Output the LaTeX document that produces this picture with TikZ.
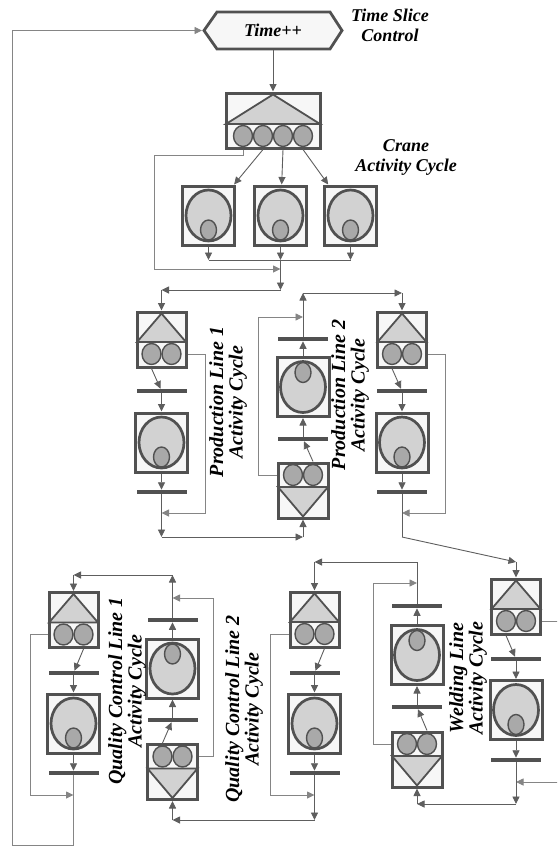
\documentclass[tikz,border=0pt]{standalone}
\usepackage{fontspec}
\setmainfont{Liberation Serif}
\usepackage{tikz}
\usetikzlibrary{arrows.meta, shapes.geometric}

\definecolor{edge}{HTML}{515151}
\definecolor{boxbg}{HTML}{F7F7F7}
\definecolor{lite}{HTML}{D2D2D2}
\definecolor{mid}{HTML}{A9A9A9}
\definecolor{lnk}{HTML}{5E5E5E}
\definecolor{lnkb}{HTML}{858585}

% queue: triangle above two tokens
\newcommand{\qtop}[3]{%
  \begin{scope}[shift={(#2,#3)}]
    \node[box, minimum width=49pt, minimum height=55pt] (#1) at (0,0) {};
    \draw[tri] (-24.5,2.5) -- (0,-26) -- (24.5,2.5) -- cycle;
    \node[token] (#1-1) at (-10,14.5) {};
    \node[token] (#1-2) at (10,14.5) {};
  \end{scope}}
% queue: two tokens above a triangle
\newcommand{\qbot}[3]{%
  \begin{scope}[shift={(#2,#3)}]
    \node[box, minimum width=50pt, minimum height=55pt] (#1) at (0,0) {};
    \draw[tri] (-25,-3.5) -- (0,26) -- (25,-3.5) -- cycle;
    \node[token] (#1-1) at (-10,-15.5) {};
    \node[token] (#1-2) at (10,-15.5) {};
  \end{scope}}
% activity, token at the bottom / at the top
\newcommand{\actbot}[3]{%
  \begin{scope}[shift={(#2,#3)}]
    \node[box, minimum width=52pt, minimum height=59pt] (#1) at (0,0) {};
    \draw[big] (0,0) ellipse [x radius=22.5, y radius=25.5];
    \draw[small] (0,14.5) ellipse [x radius=8, y radius=10];
  \end{scope}}
\newcommand{\acttop}[3]{%
  \begin{scope}[shift={(#2,#3)}]
    \node[box, minimum width=52pt, minimum height=59pt] (#1) at (0,0) {};
    \draw[big] (0,0) ellipse [x radius=22.5, y radius=25.5];
    \draw[small] (0,-14.5) ellipse [x radius=8, y radius=10];
  \end{scope}}

\begin{document}
\begin{tikzpicture}[
  x=1pt, y=-1pt,
  box/.style={rectangle, draw=edge, line width=3pt, fill=boxbg, inner sep=0pt, outer sep=1.5pt},
  bar/.style={rectangle, fill=edge, minimum width=50pt, minimum height=4.5pt, inner sep=0pt, outer sep=0pt},
  token/.style={ellipse, draw=edge, line width=1.4pt, fill=mid, minimum width=19pt, minimum height=21pt, inner sep=0pt},
  tri/.style={draw=edge, line width=1.8pt, fill=lite},
  big/.style={draw=edge, line width=2.7pt, fill=lite},
  small/.style={draw=edge, line width=1.4pt, fill=mid},
  link/.style={draw=lnk, line width=0.9pt, -{Triangle[length=7.5pt,width=7pt]}},
  back/.style={link, draw=lnkb},
  plain/.style={draw=lnk, line width=0.9pt},
  lbl/.style={font=\fontsize{18}{20}\selectfont\bfseries\itshape, align=center, inner sep=0pt},
  vlbl/.style={font=\fontsize{20}{19.5}\selectfont\bfseries\itshape, align=center, inner sep=0pt, rotate=90}
]
\useasboundingbox (0,0) rectangle (557,846);
\clip (0,0) rectangle (557,846);

% time slice control
\filldraw[draw=edge, fill=boxbg, line width=2.8pt] (204,30.5) -- (217,12) -- (330,12) -- (342,30.5) -- (330,49) -- (217,49) -- cycle;
\node[lbl] (time) at (273,30) {Time++};
\coordinate (tw) at (202,30.5);
\coordinate (tb) at (273,50);
\node[lbl] (tslbl) at (390,25) {Time Slice\\Control};

% crane
\node[box, minimum width=94pt, minimum height=55pt] (cr) at (273,120.5) {};
\draw[tri] (226,124) -- (273,94.5) -- (320,124) -- cycle;
\node[token] (cr-1) at (243,136) {};
\node[token] (cr-2) at (263,136) {};
\node[token] (cr-3) at (283,136) {};
\node[token] (cr-4) at (303,136) {};
\actbot{ca1}{208.5}{215.5}
\actbot{ca2}{280.5}{215.5}
\actbot{ca3}{350.5}{215.5}
\node[lbl] (crlbl) at (406,157) {Crane\\Activity Cycle};

\draw[link] (tb) -- (cr);
\draw[link] (cr-2 |- cr.south) -- (ca1);
\draw[link] (cr-3 |- cr.south) -- (ca2);
\draw[link] (cr-4 |- cr.south) -- (ca3);
\coordinate (m1) at (208.5,260);
\coordinate (m2) at (280.5,260);
\coordinate (m3) at (350.5,260);
\coordinate (m4) at (280.5,290);
\coordinate (cl1) at (154,155);
\coordinate (j1) at (280.5,269);
\draw[link] (ca1) -- (m1);
\draw[link] (ca2) -- (m2);
\draw[link] (ca3) -- (m3);
\draw[plain] (m1) -- (m3);
\draw[back] (cr-1 |- cr.south) |- (cl1) |- (j1);
\draw[link] (m2) -- (m4);

% production line 1
\qtop{p1q}{161.5}{339.5}
\node[bar] (p1b1) at (161.5,391) {};
\actbot{p1a}{161.5}{442.5}
\node[bar] (p1b2) at (161.5,492) {};
\coordinate (p1i) at (161.5,290);
\coordinate (p1c) at (205,354);
\coordinate (p1j) at (161.5,513);
\coordinate (p1e) at (161.5,537);
\draw[link] (m4) -- (p1i);
\draw[link] (p1i) -- (p1q);
\draw[link] (p1q-1 |- p1q.south) -- (p1b1);
\draw[link] (p1b1) -- (p1a);
\draw[link] (p1a) -- (p1b2);
\draw[back] (p1q-2 -| p1q.east) -- (p1c) |- (p1j);
\draw[link] (p1b2) -- (p1e);
\node[vlbl] (p1lbl) at (228,402) {Production Line 1\\Activity Cycle};

% production, middle column
\qbot{pmq}{303}{490.5}
\node[bar] (pmb1) at (303,439) {};
\acttop{pma}{303}{387}
\node[bar] (pmb2) at (303,339) {};
\coordinate (pmi) at (303,537);
\coordinate (pmc) at (258,475);
\coordinate (pmj) at (303,317);
\coordinate (pmt) at (303,293);
\draw[link] (p1e) -- (pmi);
\draw[link] (pmi) -- (pmq);
\draw[link] (pmq-2 |- pmq.north) -- (pmb1);
\draw[link] (pmb1) -- (pma);
\draw[link] (pma) -- (pmb2);
\draw[back] (pmq-1 -| pmq.west) -- (pmc) |- (pmj);
\draw[link] (pmb2) -- (pmt);

% production line 2
\qtop{p2q}{402}{339.5}
\node[bar] (p2b1) at (402,391) {};
\actbot{p2a}{402}{442.5}
\node[bar] (p2b2) at (402,492) {};
\coordinate (p2i) at (402,293);
\coordinate (p2c) at (445,354);
\coordinate (p2j) at (402,513);
\coordinate (p2e) at (402,537);
\draw[link] (pmt) -- (p2i);
\draw[link] (p2i) -- (p2q);
\draw[link] (p2q-1 |- p2q.south) -- (p2b1);
\draw[link] (p2b1) -- (p2a);
\draw[link] (p2a) -- (p2b2);
\draw[back] (p2q-2 -| p2q.east) -- (p2c) |- (p2j);
\draw[plain] (p2b2) -- (p2e);
\node[vlbl] (p2lbl) at (350,395) {Production Line 2\\Activity Cycle};

% welding line
\qtop{wdq}{516}{606.5}
\node[bar] (wdb1) at (516,659) {};
\actbot{wda}{516}{710}
\node[bar] (wdb2) at (516,760) {};
\coordinate (wdi) at (516,562);
\coordinate (wdc) at (566,621);
\coordinate (wdj) at (516,782);
\coordinate (wde) at (516,804);
\draw[link] (p2e) -- (wdi);
\draw[link] (wdi) -- (wdq);
\draw[link] (wdq-1 |- wdq.south) -- (wdb1);
\draw[link] (wdb1) -- (wda);
\draw[link] (wda) -- (wdb2);
\draw[back] (wdq-2 -| wdq.east) -- (wdc) |- (wdj);
\draw[link] (wdb2) -- (wde);
\node[vlbl] (wdlbl) at (468,678) {Welding Line\\Activity Cycle};

% welding, middle column
\qbot{wmq}{417}{759.5}
\node[bar] (wmb1) at (417,707) {};
\acttop{wma}{417}{655}
\node[bar] (wmb2) at (417,606) {};
\coordinate (wmi) at (417,804);
\coordinate (wmc) at (373,744);
\coordinate (wmj) at (417,583);
\coordinate (wmt) at (417,562);
\draw[link] (wde) -- (wmi);
\draw[link] (wmi) -- (wmq);
\draw[link] (wmq-2 |- wmq.north) -- (wmb1);
\draw[link] (wmb1) -- (wma);
\draw[link] (wma) -- (wmb2);
\draw[back] (wmq-1 -| wmq.west) -- (wmc) |- (wmj);
\draw[plain] (wmb2) -- (wmt);

% quality control line 2
\qtop{q2q}{314.5}{619.5}
\node[bar] (q2b1) at (314.5,673) {};
\actbot{q2a}{314.5}{723.5}
\node[bar] (q2b2) at (314.5,773) {};
\coordinate (q2i) at (314.5,562);
\coordinate (q2c) at (270,634);
\coordinate (q2j) at (314.5,795);
\coordinate (q2e) at (314.5,820);
\draw[link] (wmt) -- (q2i);
\draw[link] (q2i) -- (q2q);
\draw[link] (q2q-2 |- q2q.south) -- (q2b1);
\draw[link] (q2b1) -- (q2a);
\draw[link] (q2a) -- (q2b2);
\draw[back] (q2q-1 -| q2q.west) -- (q2c) |- (q2j);
\draw[link] (q2b2) -- (q2e);
\node[vlbl] (q2lbl) at (244,709) {Quality Control Line 2\\Activity Cycle};

% quality control, middle column
\qbot{qmq}{172.5}{772}
\node[bar] (qmb1) at (172.5,720) {};
\acttop{qma}{172.5}{668.5}
\node[bar] (qmb2) at (172.5,620) {};
\coordinate (qmi) at (172.5,820);
\coordinate (qmc) at (213,756.5);
\coordinate (qmj) at (172.5,598);
\coordinate (qmt) at (172.5,575);
\draw[link] (q2e) -- (qmi);
\draw[link] (qmi) -- (qmq);
\draw[link] (qmq-1 |- qmq.north) -- (qmb1);
\draw[link] (qmb1) -- (qma);
\draw[link] (qma) -- (qmb2);
\draw[back] (qmq-2 -| qmq.east) -- (qmc) |- (qmj);
\draw[link] (qmb2) -- (qmt);

% quality control line 1
\qtop{q1q}{73.5}{620}
\node[bar] (q1b1) at (73.5,673) {};
\actbot{q1a}{73.5}{723.5}
\node[bar] (q1b2) at (73.5,773) {};
\coordinate (q1i) at (73.5,575);
\coordinate (q1c) at (30,634.5);
\coordinate (q1j) at (73.5,795);
\coordinate (lp1) at (73.5,845);
\coordinate (lp2) at (12.5,845);
\coordinate (lp3) at (12.5,30.5);
\draw[link] (qmt) -- (q1i);
\draw[link] (q1i) -- (q1q);
\draw[link] (q1q-2 |- q1q.south) -- (q1b1);
\draw[link] (q1b1) -- (q1a);
\draw[link] (q1a) -- (q1b2);
\draw[back] (q1q-1 -| q1q.west) -- (q1c) |- (q1j);
\node[vlbl] (q1lbl) at (127,691) {Quality Control Line 1\\Activity Cycle};

% back to the clock
\draw[back] (q1b2) -- (lp1) -- (lp2) -- (lp3) -- (tw);
\end{tikzpicture}
\end{document}
